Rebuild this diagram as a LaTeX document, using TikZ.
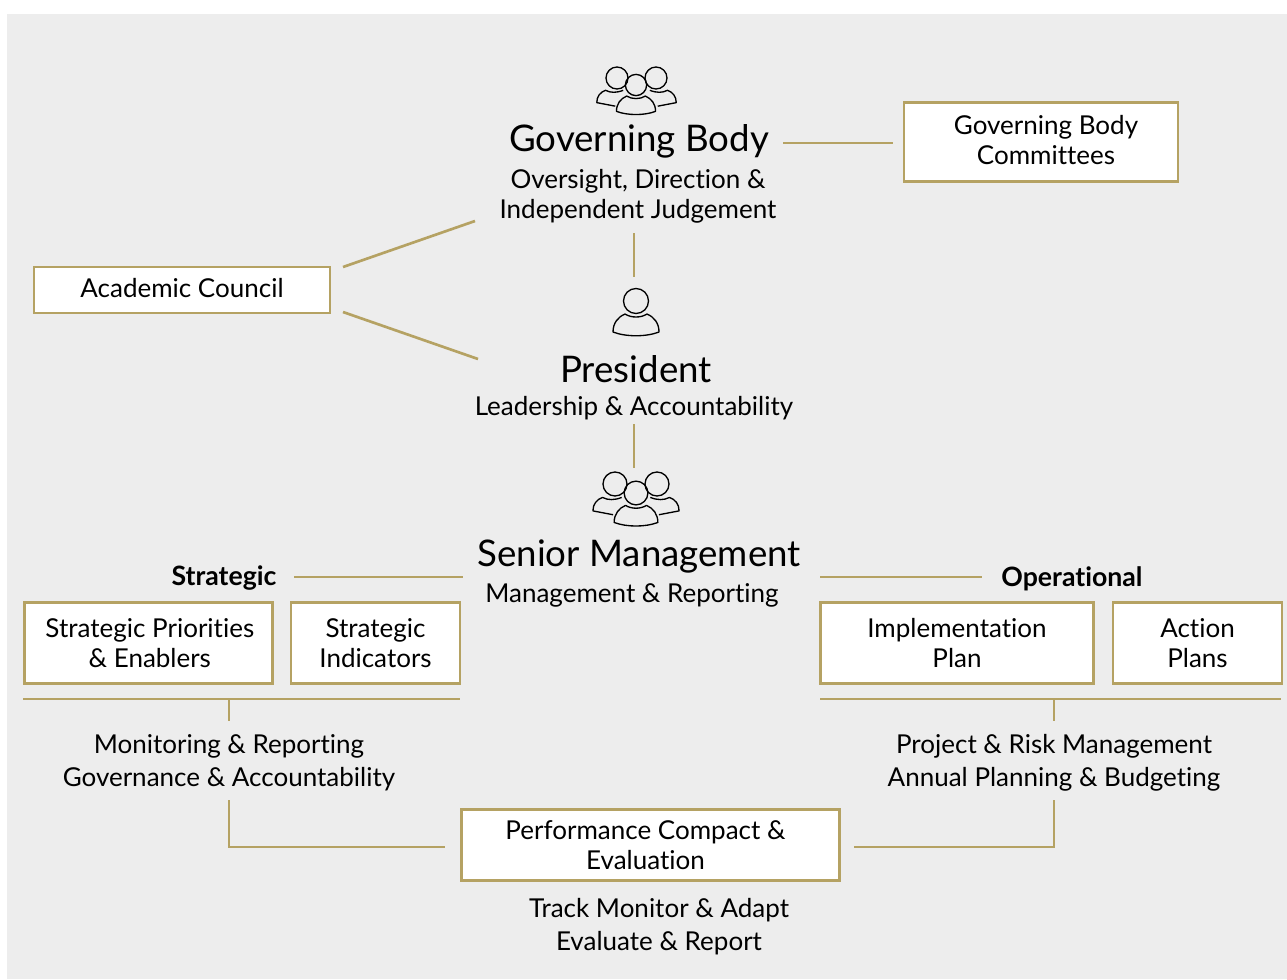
\documentclass[tikz,border=0pt]{standalone}
\usepackage{fontspec}
\setmainfont{Lato}[Ligatures={TeX,NoCommon}]
\definecolor{govgold}{HTML}{B5A263}
\definecolor{govgray}{HTML}{EDEDED}

\begin{document}
\begin{tikzpicture}[%
		x=0.75pt,
		y=-0.75pt,
		govbox/.style={
			rectangle,
			draw=govgold,
			fill=white,
			line width=1.9pt,
			align=center,
			inner sep=0pt,
			font=\fontsize{19.5}{22.5}\selectfont
		},
		bigtitle/.style={
			align=center,
			inner sep=0pt,
			font=\fontsize{27.5}{32}\selectfont
		},
		subtitle/.style={
			align=center,
			inner sep=0pt,
			font=\fontsize{19.5}{22.5}\selectfont
		},
		tasks/.style={
			align=center,
			inner sep=0pt,
			font=\fontsize{19.5}{24.75}\selectfont
		},
		sidelabel/.style={
			inner sep=0pt,
			font=\fontsize{20}{22.5}\selectfont\bfseries
		},
		govline/.style={
			draw=govgold,
			line width=2pt
		},
		iconline/.style={
			draw=black,
			line width=1pt,
			line join=round
		},
		person/.pic={
			\draw[iconline] (0,0) circle (12.5);
			\draw[iconline] (-23,31) .. controls (-23,22) and (-18,16) .. (-11,13) .. controls (-5,17) and (5,17) .. (11,13) .. controls (18,16) and (23,22) .. (23,31) .. controls (10,36) and (-10,36) .. cycle;
		},
		sideperson/.pic={
			\draw[iconline] (0,0) circle (12.5);
			\draw[iconline] (-2,32) -- (-23,28) .. controls (-23,21) and (-19,16) .. (-13,14) .. controls (-7,17) and (-1,17) .. (7,14);
		}]

		% BACKGROUND

		\useasboundingbox (0,0) rectangle (1287,979);
		\fill[white] (0,0) rectangle (1287,979);
		\fill[govgray] (7,14) rectangle (1287,979);

		% TOP

		\pic[scale=0.88] at (617,78) {sideperson};
		\pic[xscale=-0.88,yscale=0.88] at (656,78) {sideperson};
		\pic[scale=0.85] at (636,85) {person};
		\node (govbody) [bigtitle] at (639,141) {Governing Body};
		\node (govtext) [subtitle] at (638,196) {Oversight, Direction \&\\Independent Judgement};
		\node (govcom) [govbox,minimum width=205.5pt,minimum height=59pt] at (1041,142) {\hspace*{7.5pt}Governing Body\\\hspace*{7.5pt}Committees\vrule depth 3pt width 0pt};
		\node (acad) [govbox,minimum width=222pt,minimum height=34.5pt] at (182,290) {Academic Council\vrule depth 3pt width 0pt};

		\pic at (636,301) {person};
		\node (pres) [bigtitle] at (636,369) {President};
		\node (prestext) [subtitle] at (634,408) {Leadership \& Accountability};

		\pic[scale=0.96] at (615,484) {sideperson};
		\pic[xscale=-0.96,yscale=0.96] at (657,484) {sideperson};
		\pic[scale=0.95] at (636,493) {person};
		\node (senior) [bigtitle] at (639,556) {Senior Management};
		\node (seniortext) [subtitle] at (632,595) {Management \& Reporting};

		% LEFT AND RIGHT

		\node (strat) [sidelabel] at (224,578) {Strategic};
		\node (oper) [sidelabel] at (1072,579) {Operational};
		\node (prior) [govbox,minimum width=186pt,minimum height=60.5pt] at (148.5,643) {\hspace*{2pt}Strategic Priorities\\\hspace*{2pt}\& Enablers};
		\node (indic) [govbox,minimum width=126.5pt,minimum height=60.5pt] at (375.5,643) {Strategic\\Indicators};
		\node (impl) [govbox,minimum width=205pt,minimum height=60.5pt] at (957,643) {Implementation\\Plan};
		\node (action) [govbox,minimum width=126.5pt,minimum height=60.5pt] at (1197.5,643) {Action\\Plans};
		\node (mon) [tasks] at (229,763) {Monitoring \& Reporting\\Governance \& Accountability};
		\node (proj) [tasks] at (1054,763) {Project \& Risk Management\\Annual Planning \& Budgeting};

		% BOTTOM

		\node (perf) [govbox,minimum width=283.5pt,minimum height=53pt] at (650.5,845) {Performance Compact \&\hspace*{7.5pt}\\Evaluation\hspace*{7.5pt}};
		\node (track) [tasks] at (659,927) {Track Monitor \& Adapt\\Evaluate \& Report};

		% LINE ENDS

		\coordinate (acadT) at (343,267);
		\coordinate (acadB) at (343,312);
		\coordinate (govL) at (475,221);
		\coordinate (presL) at (478,359);
		\coordinate (govS) at (634,233);
		\coordinate (presN) at (634,277);
		\coordinate (presS) at (634,424);
		\coordinate (seniorN) at (634,468);
		\coordinate (govE) at (783,143);
		\coordinate (comW) at (893,143);
		\coordinate (stratE) at (294,577);
		\coordinate (seniorW) at (463,577);
		\coordinate (seniorE) at (820,577);
		\coordinate (operW) at (982,577);
		\coordinate (barLL) at (23,699);
		\coordinate (barLR) at (460,699);
		\coordinate (barRL) at (820,699);
		\coordinate (barRR) at (1281,699);
		\coordinate (tickL) at (229,699);
		\coordinate (tickLb) at (229,721);
		\coordinate (tickR) at (1054,699);
		\coordinate (tickRb) at (1054,721);
		\coordinate (elbowL) at (229,800);
		\coordinate (perfL) at (445,847);
		\coordinate (elbowR) at (1054,800);
		\coordinate (perfR) at (854,847);

		% LINES

		\draw[govline] (govE) -- (comW);
		\draw[govline] (acadT) -- (govL);
		\draw[govline] (acadB) -- (presL);
		\draw[govline] (govS) -- (presN);
		\draw[govline] (presS) -- (seniorN);
		\draw[govline] (stratE) -- (seniorW);
		\draw[govline] (seniorE) -- (operW);
		\draw[govline] (barLL) -- (barLR);
		\draw[govline] (barRL) -- (barRR);
		\draw[govline] (tickL) -- (tickLb);
		\draw[govline] (tickR) -- (tickRb);
		\draw[govline] (elbowL) |- (perfL);
		\draw[govline] (elbowR) |- (perfR);
\end{tikzpicture}
\end{document}
